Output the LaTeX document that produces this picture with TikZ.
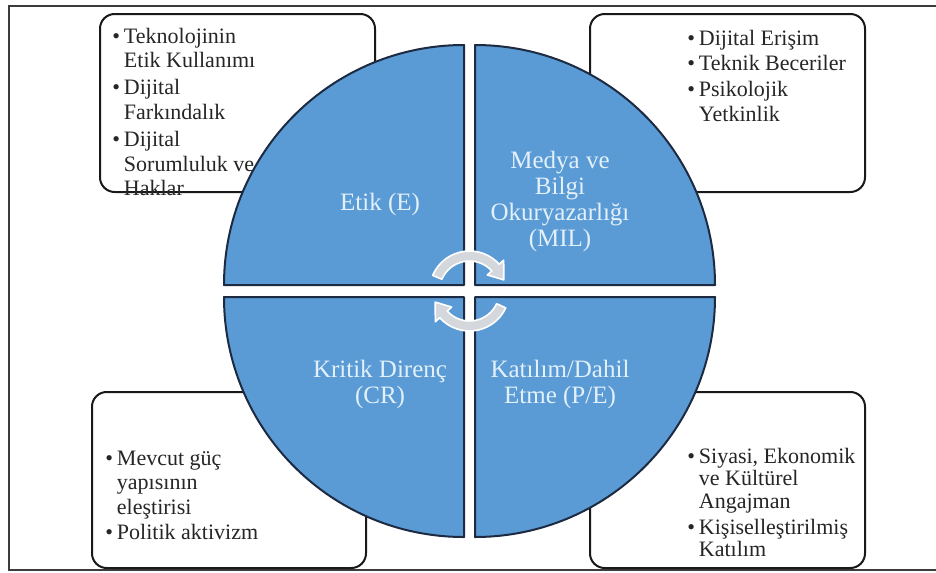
\documentclass[tikz,border=0pt]{standalone}
\usepackage{fontspec}
\setmainfont{Liberation Serif}
\usetikzlibrary{calc}
\definecolor{qblue}{RGB}{91,155,213}
\definecolor{qedge}{RGB}{28,42,66}
\definecolor{qtext}{RGB}{226,240,250}
\definecolor{arrfill}{RGB}{212,216,220}
\definecolor{frameclr}{RGB}{60,60,60}
\newcommand{\bl}{\textbullet}
\begin{document}
\begin{tikzpicture}[x=0.75pt,y=-0.75pt,
  frameline/.style={draw=frameclr,line width=1.5pt},
  infobox/.style={draw=black!90,line width=1.5pt,rounded corners=11pt,fill=white,inner sep=0pt},
  listtext/.style={anchor=base west,inner sep=0pt,font=\fontsize{16.5}{18.4}\selectfont,text=black!85},
  quad/.style={fill=qblue,draw=qedge,line width=1.5pt,line join=round},
  qlabel/.style={anchor=base,inner sep=0pt,font=\fontsize{18.75}{19.5}\selectfont,text=qtext},
  cycarrow/.style={fill=arrfill,draw=white,line width=1.2pt,line join=round}]
\useasboundingbox (0,0) rectangle (936,572);
\fill[white] (0,0) rectangle (936,572);
\draw[frameline] (936,6) -- (9,6) -- (9,570) -- (936,570);

% boxes
\node[infobox,minimum width=206.25pt,minimum height=133.5pt] (boxE) at (237.5,103) {};
\node[infobox,minimum width=206.25pt,minimum height=133.5pt] (boxMIL) at (727.5,103) {};
\node[infobox,minimum width=205.5pt,minimum height=132pt] (boxCR) at (229,480) {};
\node[infobox,minimum width=206.25pt,minimum height=132pt] (boxPE) at (727.5,480) {};

% box texts
\node[listtext] (txtE) at (112,43) {\begin{tabular}[t]{@{}l@{\hspace{3pt}}l@{}}
\bl & Teknolojinin\\ & Etik Kullanımı\\[2pt]
\bl & Dijital\\ & Farkındalık\\[2pt]
\bl & Dijital\\ & Sorumluluk ve\\ & Haklar\end{tabular}};
\node[listtext] (txtMIL) at (687,45) {\begin{tabular}[t]{@{}l@{\hspace{3pt}}l@{}}
\bl & Dijital Erişim\\[1pt]
\bl & Teknik Beceriler\\[1pt]
\bl & Psikolojik\\ & Yetkinlik\end{tabular}};
\node[listtext] (txtCR) at (105,465) {\begin{tabular}[t]{@{}l@{\hspace{3pt}}l@{}}
\bl & Mevcut güç\\ & yapısının\\ & eleştirisi\\[1pt]
\bl & Politik aktivizm\end{tabular}};
\node[listtext] (txtPE) at (687,463) {\renewcommand{\arraystretch}{0.93}\begin{tabular}[t]{@{}l@{\hspace{3pt}}l@{}}
\bl & Siyasi, Ekonomik\\ & ve Kültürel\\ & Angajman\\[2pt]
\bl & Kişiselleştirilmiş\\ & Katılım\end{tabular}};

% quadrants
\draw[quad] (464,285) -- (224,285) arc[start angle=180,end angle=270,radius=240] -- cycle;
\draw[quad] (475,285) -- (475,45) arc[start angle=270,end angle=360,radius=240] -- cycle;
\draw[quad] (475,297) -- (715,297) arc[start angle=0,end angle=90,radius=240] -- cycle;
\draw[quad] (464,297) -- (464,537) arc[start angle=90,end angle=180,radius=240] -- cycle;

% quadrant labels
\node[qlabel] (labE) at (380,210) {\begin{tabular}[t]{@{}c@{}}Etik (E)\end{tabular}};
\node[qlabel] (labMIL) at (560,168) {\begin{tabular}[t]{@{}c@{}}Medya ve\\ Bilgi\\ Okuryazarlığı\\ (MIL)\end{tabular}};
\node[qlabel] (labCR) at (380,377) {\begin{tabular}[t]{@{}c@{}}Kritik Direnç\\ (CR)\end{tabular}};
\node[qlabel] (labPE) at (560,377) {\begin{tabular}[t]{@{}c@{}}Katılım/Dahil\\ Etme (P/E)\end{tabular}};

% cycle arrows
\coordinate (C) at (469.5,291);
\draw[cycarrow] ($(C)+(203:40)$) arc[start angle=203,end angle=318,radius=40]
  -- ($(C)+(318:46)$) -- ($(C)+(342:36)$) -- ($(C)+(318:24)$) -- ($(C)+(318:30)$)
  arc[start angle=318,end angle=203,radius=30] -- cycle;
\draw[cycarrow] ($(C)+(25:40)$) arc[start angle=25,end angle=138,radius=40]
  -- ($(C)+(138:46)$) -- ($(C)+(162:36)$) -- ($(C)+(138:24)$) -- ($(C)+(138:30)$)
  arc[start angle=138,end angle=25,radius=30] -- cycle;
\end{tikzpicture}
\end{document}
